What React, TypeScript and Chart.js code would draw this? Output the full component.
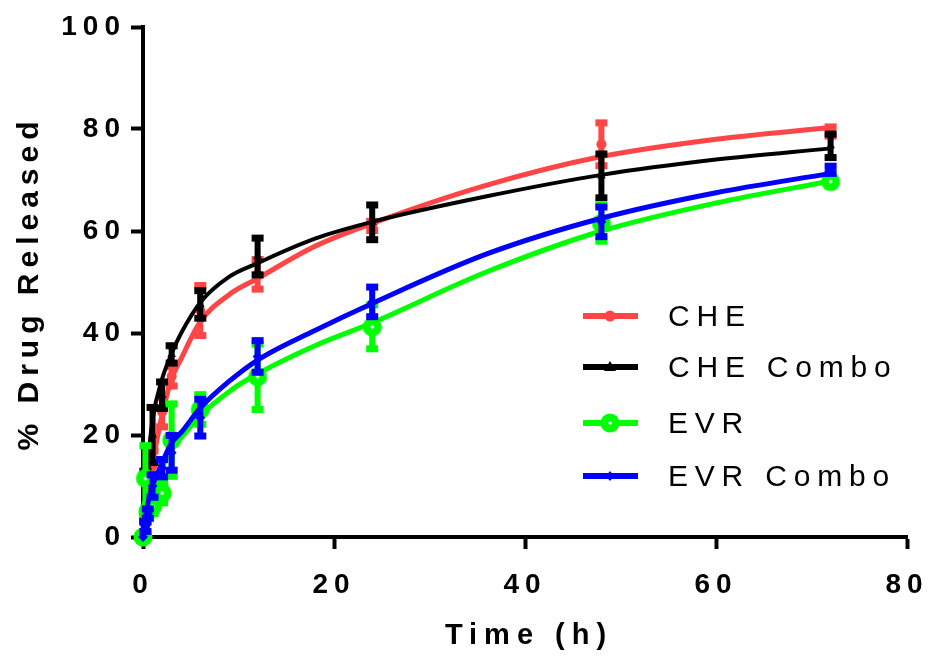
import React, { useEffect, useRef } from 'react';
import { Chart, registerables } from 'chart.js';
Chart.register(...registerables);

// ---------- data ----------
const seriesLabels = ['CHE', 'CHE Combo', 'EVR', 'EVR Combo'];
const seriesColors = ['#FF4545', '#000000', '#00FF00', '#0000FF'];

const xTitle = 'Time (h)';
const yTitle = '% Drug Released';
const xTickValues = [0, 20, 40, 60, 80];
const yTickValues = [0, 20, 40, 60, 80, 100];

// sampled time points (h)
const sampleTimes = [0, 0.25, 0.5, 1, 2, 3, 6, 12, 24, 48, 72];
const cheMean = [0, 2.4, 8, 14, 24.5, 31.5, 44.4, 51.5, 61, 77, 79.5];
const cheSd = [0, 1.5, 2.5, 3, 3, 2, 5, 3, 1, 4.3, 1];
const cheComboMean = [0, 8, 13, 20, 27.8, 35.8, 45.6, 55, 61.7, 70.8, 76.7];
const cheComboSd = [0, 5, 3, 5.5, 2.7, 1.8, 2.8, 3.7, 3.5, 4.4, 2.4];
const evrMean = [0, 11.5, 5, 6, 8.6, 19, 25, 31.4, 41.2, 61.5, 69.7];
const evrSd = [0, 6.5, 1.5, 1.5, 2, 7.2, 3, 6.5, 4.4, 3.6, 1];
const evrComboMean = [0, 2, 4.6, 10, 13.5, 16.5, 23.4, 35.4, 46.1, 61.8, 72];
const evrComboSd = [0, 1, 1, 2.3, 1.8, 3.5, 3.7, 3.2, 3, 3, 0.8];

// fitted release curves
const fitTimes = [0, 0.5, 1, 2, 3, 4, 6, 9, 12, 18, 24, 36, 48, 60, 72];
const cheFit = [0, 6, 14, 24, 31, 35, 42.2, 47.5, 50.7, 57, 61.5, 69, 74.6, 78, 80.3];
const cheComboFit = [0, 14, 23, 31, 36, 40, 46, 51, 53.7, 58.5, 61.8, 66.8, 71, 74, 76.2];
const evrFit = [0, 6, 9, 13.5, 17.5, 19.5, 23.8, 28.5, 32, 37.5, 42, 52, 60, 65.5, 69.8];
const evrComboFit = [0, 6.5, 10, 14.5, 18.5, 20.5, 25.3, 30.5, 34.7, 40.5, 45.8, 55.5, 62.5, 67.5, 71.3];

const means = [cheMean, cheComboMean, evrMean, evrComboMean];
const sds = [cheSd, cheComboSd, evrSd, evrComboSd];
const fits = [cheFit, cheComboFit, evrFit, evrComboFit];

const FONT = '"Liberation Sans", Arial, sans-serif';

function makeGreenMarker(): HTMLCanvasElement {
  const c = document.createElement('canvas');
  c.width = 22;
  c.height = 22;
  const g = c.getContext('2d')!;
  g.fillStyle = '#00FF00';
  g.beginPath();
  g.arc(11, 11, 9.5, 0, Math.PI * 2);
  g.fill();
  g.fillStyle = '#FFFFFF';
  g.beginPath();
  g.arc(11, 11, 1.7, 0, Math.PI * 2);
  g.fill();
  return c;
}

export default function App() {
  const ref = useRef<HTMLCanvasElement>(null);
  useEffect(() => {
    const canvas = ref.current!;
    const greenMarker = makeGreenMarker();
    const pointStyles: any[] = ['circle', 'triangle', greenMarker, 'rectRot'];
    const pointRadii = [5, 5, 10, 5];
    const lineWidths = [5, 4, 5, 5];
    const drawOrder = [3, 2, 1, 0]; // lower = on top

    const datasets: any[] = [];
    for (let s = 0; s < 4; s++) {
      datasets.push({
        label: seriesLabels[s],
        data: fitTimes.map((t, i) => ({ x: t, y: fits[s][i] })),
        borderColor: seriesColors[s],
        backgroundColor: seriesColors[s],
        borderWidth: lineWidths[s],
        pointRadius: 0,
        showLine: true,
        cubicInterpolationMode: 'monotone',
        clip: false,
        order: drawOrder[s] * 2 + 1,
      });
      datasets.push({
        label: seriesLabels[s] + ' data',
        data: sampleTimes.map((t, i) => ({ x: t, y: means[s][i] })),
        errors: sds[s],
        barColor: seriesColors[s],
        borderColor: seriesColors[s],
        backgroundColor: seriesColors[s],
        pointStyle: pointStyles[s],
        pointRadius: pointRadii[s],
        pointBorderWidth: 0,
        showLine: false,
        clip: false,
        order: drawOrder[s] * 2,
      });
    }

    const errorBarPlugin = {
      id: 'errorBars',
      beforeDatasetDraw(chart: any, args: any) {
        const ds = chart.data.datasets[args.index];
        if (!ds.errors) return;
        const { ctx } = chart;
        const x = chart.scales.x;
        const y = chart.scales.y;
        ctx.save();
        ctx.fillStyle = ds.barColor;
        ds.data.forEach((p: any, i: number) => {
          const sd = ds.errors[i];
          if (!sd) return;
          const px = x.getPixelForValue(p.x);
          const top = y.getPixelForValue(p.y + sd);
          const bot = y.getPixelForValue(p.y - sd);
          ctx.fillRect(px - 3, top, 6, bot - top);
          ctx.fillRect(px - 6, top - 3, 12, 7);
          ctx.fillRect(px - 6, bot - 4, 12, 7);
        });
        ctx.restore();
      },
    };

    const spacingPlugin = {
      id: 'spacing',
      beforeUpdate(chart: any) {
        chart.ctx.letterSpacing = '6px';
      },
      beforeDraw(chart: any) {
        chart.ctx.letterSpacing = '6px';
      },
    };

    const overlayPlugin = {
      id: 'overlay',
      afterDraw(chart: any) {
        const ctx = chart.ctx;
        const area = chart.chartArea;
        ctx.save();
        ctx.fillStyle = '#000';
        ctx.textAlign = 'center';
        ctx.textBaseline = 'middle';
        // axis titles
        ctx.letterSpacing = '6px';
        ctx.font = `bold 30px ${FONT}`;
        ctx.save();
        ctx.translate(30, 286);
        ctx.rotate(-Math.PI / 2);
        ctx.fillText(yTitle, 3, 0);
        ctx.restore();
        ctx.letterSpacing = '7px';
        ctx.font = `bold 29px ${FONT}`;
        ctx.fillText(xTitle, (area.left + area.right) / 2 + 4, 636);

        // legend
        const rows = [316, 367, 423, 476];
        ctx.textAlign = 'left';
        ctx.letterSpacing = '6.8px';
        ctx.font = `30px ${FONT}`;
        for (let s = 0; s < 4; s++) {
          const yy = rows[s];
          ctx.fillStyle = seriesColors[s];
          ctx.fillRect(583, yy - 3, 55, 6);
          const cx = 610;
          ctx.beginPath();
          if (s === 0) {
            ctx.arc(cx, yy, 5.5, 0, Math.PI * 2);
            ctx.fill();
          } else if (s === 1) {
            ctx.moveTo(cx, yy - 6);
            ctx.lineTo(cx + 6, yy + 4);
            ctx.lineTo(cx - 6, yy + 4);
            ctx.closePath();
            ctx.fill();
          } else if (s === 2) {
            ctx.drawImage(greenMarker, cx - 11, yy - 11);
          } else {
            ctx.moveTo(cx, yy - 5);
            ctx.lineTo(cx + 4, yy);
            ctx.lineTo(cx, yy + 5);
            ctx.lineTo(cx - 4, yy);
            ctx.closePath();
            ctx.fill();
          }
          ctx.fillStyle = '#000';
          ctx.fillText(seriesLabels[s], 668, yy + 2);
        }
        ctx.restore();
      },
    };

    const chart = new Chart(canvas, {
      type: 'scatter',
      data: { datasets },
      options: {
        animation: false,
        responsive: false,
        devicePixelRatio: 1,
        layout: { padding: { left: 0, right: 22, top: 27, bottom: 0 } },
        plugins: { legend: { display: false }, tooltip: { enabled: false } },
        scales: {
          x: {
            type: 'linear',
            min: 0,
            max: 80,
            afterBuildTicks: (scale: any) => {
              scale.ticks = xTickValues.map((v) => ({ value: v }));
            },
            afterFit: (scale: any) => {
              scale.height = 119;
              scale.paddingLeft = 0;
              scale.paddingRight = 0;
            },
            border: { display: true, color: '#000', width: 4 },
            grid: {
              drawOnChartArea: false,
              drawTicks: true,
              tickLength: 12,
              tickWidth: 4,
              tickColor: '#000',
              color: '#000',
            },
            ticks: {
              color: '#000',
              padding: 19,
              maxRotation: 0,
              autoSkip: false,
              font: { family: FONT, size: 28, weight: 'bold' },
              callback: (v: any) => String(v),
            },
            title: { display: false },
          },
          y: {
            type: 'linear',
            min: 0,
            max: 100,
            afterBuildTicks: (scale: any) => {
              scale.ticks = yTickValues.map((v) => ({ value: v }));
            },
            afterFit: (scale: any) => {
              scale.width = 143;
              scale.paddingTop = 0;
              scale.paddingBottom = 0;
            },
            border: { display: true, color: '#000', width: 4 },
            grid: {
              drawOnChartArea: false,
              drawTicks: true,
              tickLength: 12,
              tickWidth: 4,
              tickColor: '#000',
              color: '#000',
            },
            ticks: {
              color: '#000',
              padding: 5,
              autoSkip: false,
              font: { family: FONT, size: 28, weight: 'bold' },
              callback: (v: any) => String(v),
            },
            title: { display: false },
          },
        },
      } as any,
      plugins: [spacingPlugin, errorBarPlugin, overlayPlugin],
    });
    return () => chart.destroy();
  }, []);

  return (
    <div style={{ position: 'fixed', left: 0, top: 0, width: 929, height: 656, background: '#fff' }}>
      <canvas ref={ref} width={929} height={656} style={{ width: 929, height: 656, display: 'block' }} />
    </div>
  );
}
